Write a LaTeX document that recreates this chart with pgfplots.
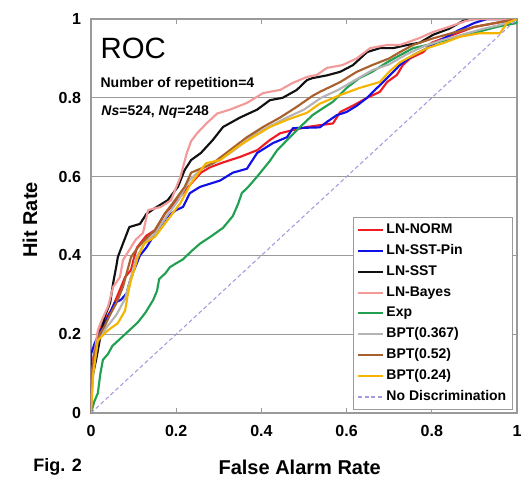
\documentclass[border=0pt]{standalone}
\usepackage{fontspec}
\setmainfont{Liberation Sans}
\usepackage{pgfplots}
\pgfplotsset{compat=1.18}
\definecolor{lnnorm}{HTML}{F01C24}
\definecolor{lnpin}{HTML}{1010E8}
\definecolor{lnsst}{HTML}{111111}
\definecolor{lnbayes}{HTML}{F29A9A}
\definecolor{expc}{HTML}{20A050}
\definecolor{bpta}{HTML}{B4B4B4}
\definecolor{bptb}{HTML}{A8612C}
\definecolor{bptc}{HTML}{F4B400}
\definecolor{nodisc}{HTML}{A898E0}
\definecolor{frame}{HTML}{9A9A9A}

\begin{document}
\begin{tikzpicture}
\begin{axis}[
  scale only axis, width=319.5pt, height=295.5pt,
  xmin=0, xmax=1, ymin=0, ymax=1,
  xtick={0,0.2,0.4,0.6,0.8,1}, ytick={0,0.2,0.4,0.6,0.8,1},
  ymajorgrids, grid style={frame, line width=0.9pt},
  axis line style={frame, line width=0.9pt},
  tick align=inside, major tick length=4pt,
  xtick style={frame, line width=0.8pt}, ytick style={draw=none},
  /pgf/number format/assume math mode=true,
  tick label style={font=\bfseries\fontsize{12}{14}\selectfont},
  xticklabel style={yshift=-6pt},
  yticklabel style={xshift=-4pt},
  xlabel={False Alarm Rate}, ylabel={Hit Rate},
  label style={font=\bfseries\fontsize{15}{18}\selectfont},
  xlabel style={at={(axis description cs:0.49,-0.137)}, anchor=center},
  ylabel style={at={(axis description cs:-0.143,0.49)}, anchor=center},
  clip mode=individual,
  legend style={at={(axis description cs:0.99,0.008)}, anchor=south east,
    draw=frame, line width=0.7pt, fill=white,
    font=\bfseries\fontsize{10.5}{12}\selectfont,
    nodes={inner sep=1.5pt, text height=7.8pt, text depth=2.4pt},
    row sep=2.4pt, inner xsep=3pt, inner ysep=3pt},
  legend cell align=left,
  legend image code/.code={\draw[#1, line width=1.5pt] (0pt,0pt) -- (19pt,0pt);},
  every axis plot/.append style={line width=1.6pt, line join=round},
]
\addplot[color=lnnorm] coordinates {
(0,0) (0,0.1) (0.01,0.17) (0.023,0.22) (0.035,0.24) (0.047,0.26) (0.063,0.30)
(0.08,0.345) (0.094,0.363) (0.1,0.39) (0.108,0.42) (0.13,0.45) (0.15,0.464)
(0.174,0.507) (0.197,0.533) (0.228,0.574) (0.258,0.61) (0.28,0.624) (0.31,0.636)
(0.35,0.65) (0.39,0.667) (0.42,0.693) (0.444,0.71) (0.474,0.718) (0.507,0.726)
(0.568,0.735) (0.585,0.764) (0.615,0.78) (0.648,0.80) (0.678,0.815) (0.695,0.84)
(0.718,0.858) (0.732,0.883) (0.749,0.90) (0.78,0.916) (0.80,0.94) (0.85,0.96)
(0.9,0.98) (0.95,0.99) (1,1)};
\addlegendentry{LN-NORM}
\addplot[color=lnpin] coordinates {
(0,0) (0,0.15) (0.009,0.178) (0.023,0.21) (0.04,0.244) (0.056,0.28) (0.07,0.287)
(0.084,0.304) (0.09,0.33) (0.1,0.36) (0.115,0.40) (0.13,0.42) (0.15,0.455)
(0.178,0.497) (0.2,0.515) (0.216,0.523) (0.232,0.558) (0.256,0.574) (0.303,0.59)
(0.333,0.61) (0.366,0.62) (0.39,0.66) (0.427,0.685) (0.46,0.70) (0.474,0.723)
(0.537,0.725) (0.554,0.739) (0.577,0.756) (0.60,0.764) (0.624,0.78) (0.648,0.80)
(0.662,0.815) (0.695,0.85) (0.725,0.883) (0.756,0.908) (0.789,0.926) (0.81,0.94)
(0.86,0.97) (0.9,0.99) (0.93,1) (1,1)};
\addlegendentry{LN-SST-Pin}
\addplot[color=lnsst] coordinates {
(0,0) (0,0.05) (0.005,0.1) (0.012,0.135) (0.018,0.17) (0.023,0.2) (0.032,0.244)
(0.045,0.28) (0.052,0.33) (0.059,0.37) (0.063,0.396) (0.075,0.43) (0.09,0.472)
(0.115,0.48) (0.13,0.505) (0.15,0.52) (0.18,0.54) (0.204,0.574) (0.22,0.617)
(0.235,0.642) (0.258,0.66) (0.286,0.693) (0.31,0.726) (0.35,0.75) (0.39,0.77)
(0.42,0.794) (0.45,0.80) (0.483,0.82) (0.507,0.845) (0.52,0.85) (0.554,0.857)
(0.585,0.866) (0.615,0.883) (0.648,0.916) (0.678,0.926) (0.709,0.926)
(0.742,0.934) (0.772,0.94) (0.803,0.96) (0.84,0.975) (0.873,0.995) (0.9,1) (1,1)};
\addlegendentry{LN-SST}
\addplot[color=lnbayes] coordinates {
(0,0) (0,0.08) (0.008,0.15) (0.016,0.21) (0.025,0.235) (0.04,0.27) (0.052,0.32)
(0.068,0.345) (0.075,0.388) (0.09,0.414) (0.105,0.44) (0.122,0.457) (0.134,0.515)
(0.164,0.523) (0.188,0.54) (0.21,0.60) (0.225,0.66) (0.235,0.69) (0.249,0.71)
(0.272,0.736) (0.296,0.76) (0.326,0.77) (0.366,0.787) (0.404,0.812) (0.444,0.82)
(0.474,0.838) (0.507,0.853) (0.53,0.858) (0.554,0.876) (0.59,0.883) (0.624,0.90)
(0.655,0.926) (0.695,0.934) (0.725,0.934) (0.772,0.952) (0.803,0.967)
(0.84,0.98) (0.88,0.995) (0.9,1) (1,1)};
\addlegendentry{LN-Bayes}
\addplot[color=expc] coordinates {
(0,0) (0.008,0.03) (0.016,0.05) (0.022,0.10) (0.028,0.135) (0.04,0.15) (0.05,0.17)
(0.065,0.185) (0.08,0.20) (0.095,0.215) (0.11,0.23) (0.128,0.255) (0.146,0.287)
(0.155,0.31) (0.16,0.34) (0.175,0.355) (0.185,0.37) (0.2,0.38) (0.216,0.39)
(0.235,0.41) (0.256,0.43) (0.28,0.447) (0.31,0.47) (0.333,0.50) (0.345,0.53)
(0.354,0.558) (0.37,0.575) (0.39,0.60) (0.405,0.62) (0.42,0.64) (0.437,0.667)
(0.467,0.70) (0.49,0.725) (0.52,0.756) (0.545,0.774) (0.568,0.79) (0.60,0.825)
(0.63,0.85) (0.66,0.866) (0.695,0.89) (0.725,0.908) (0.756,0.926) (0.789,0.934)
(0.835,0.947) (0.897,0.964) (0.953,0.98) (1,0.99) (1,1)};
\addlegendentry{Exp}
\addplot[color=bpta] coordinates {
(0,0) (0.005,0.1) (0.015,0.18) (0.035,0.215) (0.06,0.25) (0.08,0.29) (0.095,0.35)
(0.105,0.39) (0.125,0.43) (0.15,0.455) (0.178,0.5) (0.205,0.54) (0.23,0.59)
(0.26,0.62) (0.3,0.64) (0.34,0.67) (0.38,0.705) (0.42,0.728) (0.46,0.75)
(0.5,0.77) (0.54,0.8) (0.58,0.82) (0.62,0.845) (0.66,0.87) (0.7,0.885)
(0.74,0.91) (0.78,0.93) (0.82,0.945) (0.87,0.96) (0.92,0.975) (0.96,0.985) (1,1)};
\addlegendentry{BPT(0.367)}
\addplot[color=bptb] coordinates {
(0,0) (0,0.08) (0.008,0.15) (0.02,0.2) (0.032,0.22) (0.045,0.25) (0.06,0.28)
(0.075,0.32) (0.085,0.36) (0.094,0.396) (0.11,0.42) (0.127,0.44) (0.15,0.464)
(0.174,0.507) (0.197,0.54) (0.22,0.574) (0.235,0.61) (0.268,0.625) (0.286,0.634)
(0.326,0.667) (0.366,0.70) (0.404,0.726) (0.444,0.75) (0.483,0.777) (0.52,0.805)
(0.537,0.815) (0.585,0.84) (0.624,0.866) (0.66,0.883) (0.70,0.90) (0.725,0.916)
(0.756,0.934) (0.80,0.95) (0.85,0.965) (0.9,0.98) (0.95,0.99) (1,1)};
\addlegendentry{BPT(0.52)}
\addplot[color=bptc] coordinates {
(0,0) (0.005,0.1) (0.016,0.185) (0.04,0.21) (0.063,0.228) (0.08,0.26) (0.087,0.304)
(0.094,0.338) (0.103,0.37) (0.11,0.396) (0.125,0.43) (0.15,0.447) (0.18,0.49)
(0.21,0.533) (0.235,0.584) (0.258,0.617) (0.27,0.634) (0.303,0.642) (0.343,0.675)
(0.38,0.70) (0.42,0.726) (0.46,0.744) (0.507,0.762) (0.537,0.785) (0.585,0.807)
(0.63,0.825) (0.678,0.84) (0.70,0.866) (0.725,0.89) (0.756,0.908) (0.789,0.926)
(0.83,0.94) (0.866,0.955) (0.913,0.964) (0.96,0.964) (0.977,0.99) (1,1)};
\addlegendentry{BPT(0.24)}
\addplot[color=nodisc, line width=0.8pt, dash pattern=on 3pt off 2pt] coordinates {(0,0) (1,1)};
\addlegendentry{No Discrimination}
\node[anchor=west, inner sep=0pt, font=\fontsize{22}{26}\selectfont] at (rel axis cs:0.022,0.926) {ROC};
\node[anchor=west, inner sep=0pt, font=\bfseries\fontsize{10.5}{12}\selectfont] at (rel axis cs:0.022,0.835) {Number of repetition=4};
\node[anchor=west, inner sep=0pt, font=\bfseries\fontsize{10.5}{12}\selectfont] at (rel axis cs:0.024,0.764) {\textit{Ns}=524, \textit{Nq}=248};
\node[anchor=west, inner sep=0pt, font=\bfseries\fontsize{13.5}{15}\selectfont] at (rel axis cs:-0.136,-0.137) {Fig. 2};
\coordinate (sw) at (rel axis cs:0,0);
\end{axis}
\pgfresetboundingbox
\path (sw) ++(-68.25pt,-55.5pt) rectangle ++(397.5pt,365.25pt);
\end{tikzpicture}
\end{document}
